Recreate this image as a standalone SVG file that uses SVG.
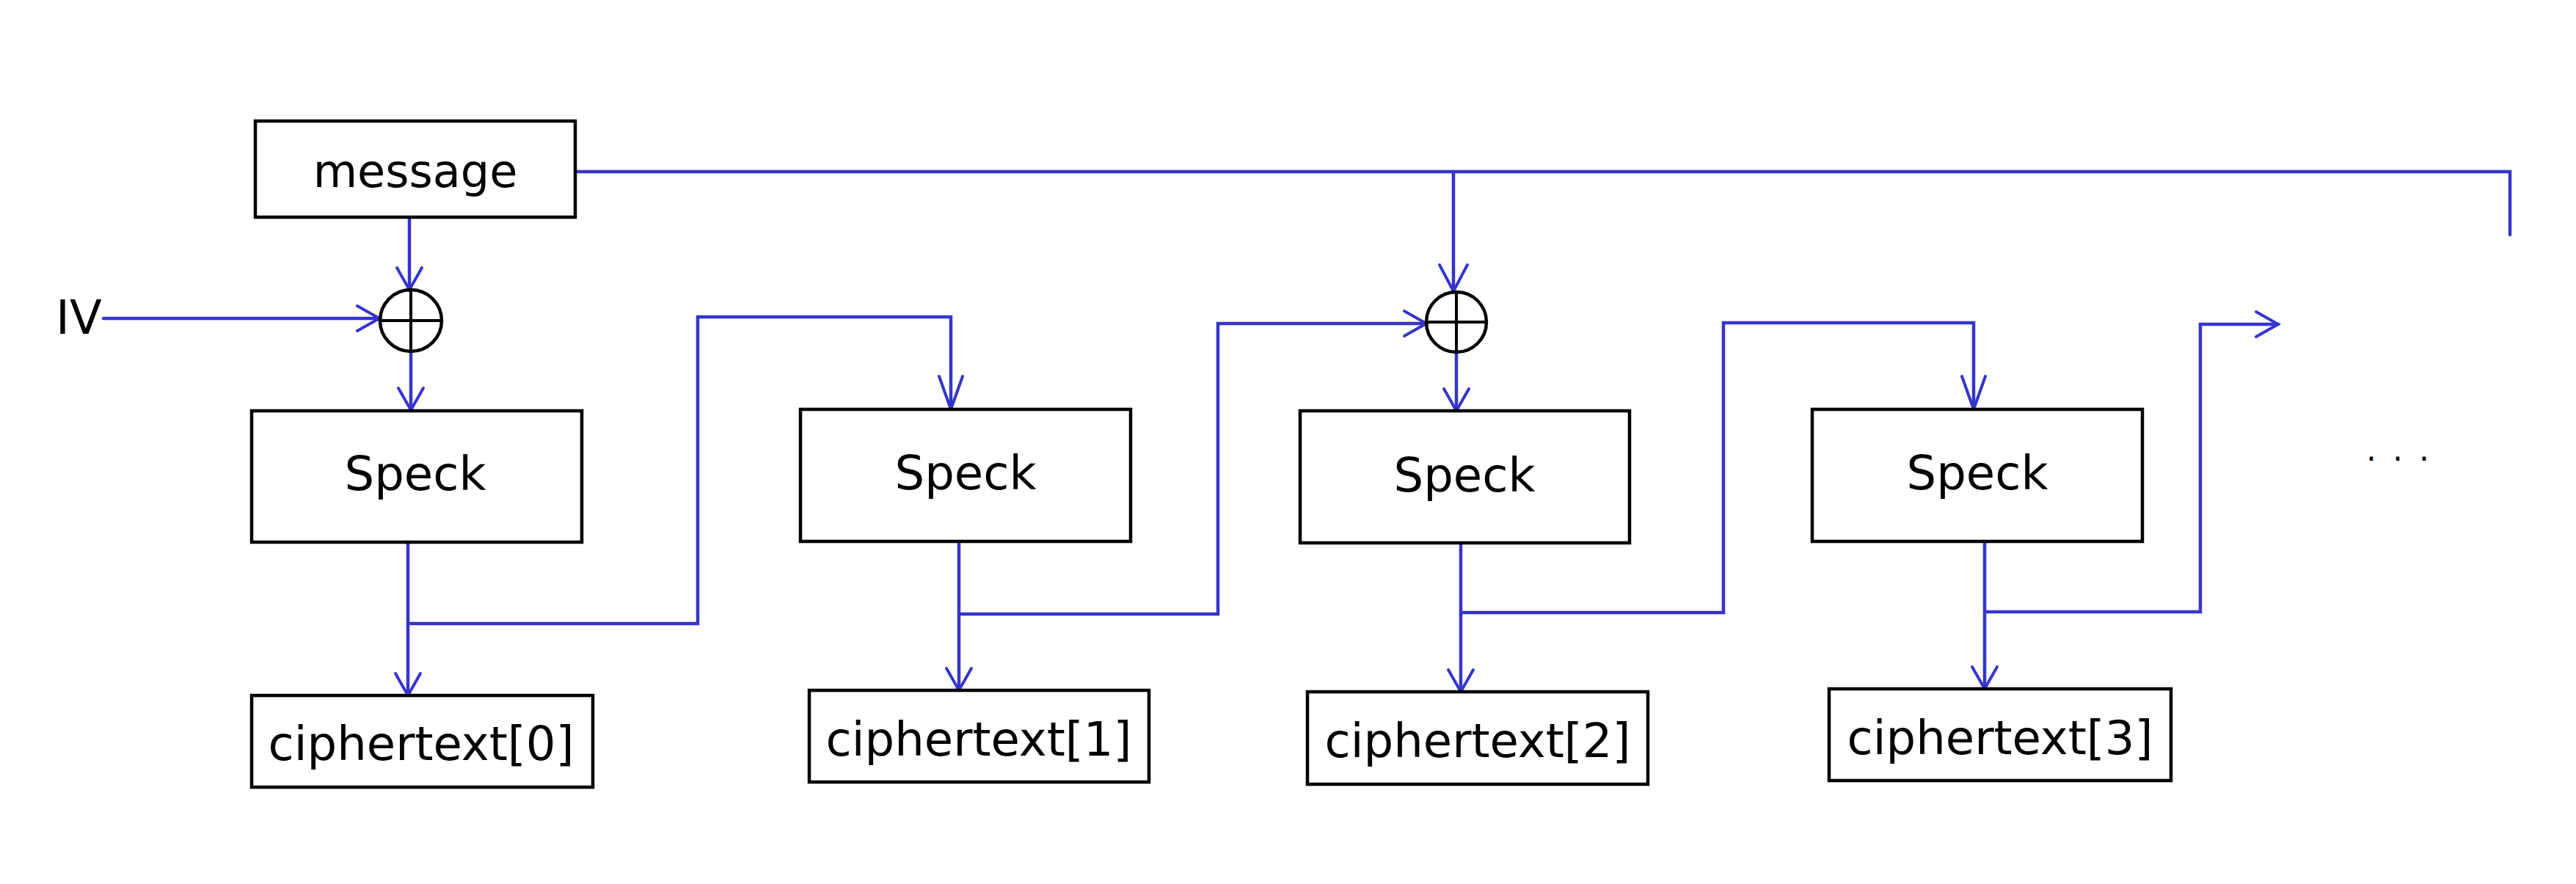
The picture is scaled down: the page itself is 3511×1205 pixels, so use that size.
<svg xmlns="http://www.w3.org/2000/svg" width="3511" height="1205" viewBox="0 0 3511 1205">
<style>
.box{fill:#fff;stroke:#000;stroke-width:4.5}
.xor{fill:none;stroke:#000;stroke-width:4.5}
.cross{stroke:#000;stroke-width:4}
.lbl{font-family:"DejaVu Sans",sans-serif;font-size:64px;fill:#000}
.c{text-anchor:middle}
.w{fill:none;stroke:#3535cc;stroke-width:4.5;stroke-linejoin:miter;stroke-linecap:round}
</style>
<defs>
<marker id="a" markerUnits="userSpaceOnUse" markerWidth="70" markerHeight="50" viewBox="-60 -25 70 50" refX="0" refY="0" orient="auto" overflow="visible"><path d="M-30,-17 L0,0 L-30,17" fill="none" stroke="#3535cc" stroke-width="4" stroke-linecap="round"/></marker>
<marker id="al" markerUnits="userSpaceOnUse" markerWidth="70" markerHeight="50" viewBox="-60 -25 70 50" refX="0" refY="0" orient="auto" overflow="visible"><path d="M-45,-16 L0,0 L-45,16" fill="none" stroke="#3535cc" stroke-width="4" stroke-linecap="round"/></marker>
<marker id="am" markerUnits="userSpaceOnUse" markerWidth="70" markerHeight="50" viewBox="-60 -25 70 50" refX="0" refY="0" orient="auto" overflow="visible"><path d="M-36,-19 L0,0 L-36,19" fill="none" stroke="#3535cc" stroke-width="4" stroke-linecap="round"/></marker>
</defs>
<rect width="3511" height="1205" fill="#fff"/>
<g id="connectors">
<line class="w" x1="558" y1="296" x2="558" y2="395" marker-end="url(#a)"/>
<line class="w" x1="141" y1="434" x2="517" y2="434" marker-end="url(#a)"/>
<line class="w" x1="560" y1="480" x2="560" y2="559" marker-end="url(#a)"/>
<polyline class="w" points="784,234 3421,234 3421,320"/>
<line class="w" x1="1981" y1="234" x2="1981" y2="397" marker-end="url(#am)"/>
<line class="w" x1="556" y1="740" x2="556" y2="948" marker-end="url(#a)"/>
<polyline class="w" points="556,850 951,850 951,432 1296,432 1296,558" marker-end="url(#al)"/>
<line class="w" x1="1307" y1="738" x2="1307" y2="941" marker-end="url(#a)"/>
<polyline class="w" points="1307,837 1660,837 1660,441 1944,441" marker-end="url(#a)"/>
<line class="w" x1="1985" y1="481" x2="1985" y2="560" marker-end="url(#a)"/>
<line class="w" x1="1991" y1="740" x2="1991" y2="943" marker-end="url(#a)"/>
<polyline class="w" points="1991,835 2349,835 2349,440 2690,440 2690,558" marker-end="url(#al)"/>
<line class="w" x1="2705" y1="738" x2="2705" y2="939" marker-end="url(#a)"/>
<polyline class="w" points="2705,834 2999,834 2999,442 3105,442" marker-end="url(#a)"/>
</g>
<g id="message"><rect class="box" x="348" y="165" width="436" height="131"/><text class="lbl c" x="566" y="255" style="font-size:62px">message</text></g>
<g id="iv"><text class="lbl" x="76" y="455">IV</text></g>
<g id="xor0"><circle class="xor" cx="560" cy="437" r="42"/><line class="cross" x1="518" y1="437" x2="602" y2="437"/><line class="cross" x1="560" y1="395" x2="560" y2="479"/></g>
<g id="xor1"><circle class="xor" cx="1985" cy="439" r="41"/><line class="cross" x1="1944" y1="439" x2="2026" y2="439"/><line class="cross" x1="1985" y1="398" x2="1985" y2="480"/></g>
<g id="speck0"><rect class="box" x="343" y="560" width="450" height="179"/><text class="lbl c" x="566" y="668">Speck</text></g>
<g id="speck1"><rect class="box" x="1091" y="558" width="450" height="180"/><text class="lbl c" x="1316" y="667">Speck</text></g>
<g id="speck2"><rect class="box" x="1772" y="560" width="449" height="180"/><text class="lbl c" x="1996" y="670">Speck</text></g>
<g id="speck3"><rect class="box" x="2470" y="558" width="450" height="180"/><text class="lbl c" x="2695" y="667">Speck</text></g>
<g id="ct0"><rect class="box" x="343" y="948" width="465" height="125"/><text class="lbl c" x="574" y="1036">ciphertext[0]</text></g>
<g id="ct1"><rect class="box" x="1103" y="941" width="463" height="125"/><text class="lbl c" x="1334" y="1030">ciphertext[1]</text></g>
<g id="ct2"><rect class="box" x="1782" y="943" width="464" height="126"/><text class="lbl c" x="2014" y="1032">ciphertext[2]</text></g>
<g id="ct3"><rect class="box" x="2493" y="939" width="466" height="125"/><text class="lbl c" x="2726" y="1028">ciphertext[3]</text></g>
<g id="dots"><text x="3225" y="641" style="font-family:'DejaVu Sans',sans-serif;font-size:44px;letter-spacing:4px" fill="#000">· · ·</text></g>
</svg>
